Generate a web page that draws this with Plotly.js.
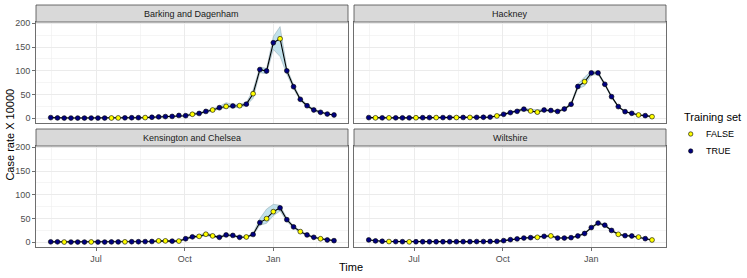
<!DOCTYPE html>
<html><head><meta charset="utf-8">
<script src="https://cdn.plot.ly/plotly-3.0.1.min.js"></script>
<style>html,body{margin:0;padding:0;background:#fff}#chart{width:747px;height:278px}</style>
</head><body><div id="chart"></div>
<script>
// ---------- data ----------
const dates = ["2020-05-15","2020-05-22","2020-05-29","2020-06-05","2020-06-12","2020-06-19","2020-06-26",
"2020-07-03","2020-07-10","2020-07-17","2020-07-24","2020-07-31","2020-08-07","2020-08-14","2020-08-21","2020-08-28",
"2020-09-04","2020-09-11","2020-09-18","2020-09-25","2020-10-02","2020-10-09","2020-10-16","2020-10-23","2020-10-30",
"2020-11-06","2020-11-13","2020-11-20","2020-11-27","2020-12-04","2020-12-11","2020-12-18","2020-12-25",
"2021-01-01","2021-01-08","2021-01-15","2021-01-22","2021-01-29","2021-02-05","2021-02-12","2021-02-19","2021-02-26","2021-03-05"];

const regions = ["Barking and Dagenham","Hackney","Kensington and Chelsea","Wiltshire"];

const barkingRate = [1.5,0.8,0.5,0.5,0.5,0.5,0.6,0.6,0.6,0.7,0.8,1.0,1.2,1.3,1.5,2.2,3.0,3.6,4.0,6.0,5.5,8.5,10.2,14.5,17.5,22.3,25.0,26.0,26.5,29.8,51.8,102.5,99.6,159,167.5,100,66.5,40,26.5,17.5,12.6,9,7];
const barkingLow  = [0.5,0,0,0,0,0,0,0,0,0,0,0.2,0.4,0.5,0.6,1.0,1.8,2.3,2.6,4.5,4.0,6.6,8.2,12.3,15.0,20.0,22.0,23.0,22.5,27.0,42,96,94,145,130,93,62,37,24,15.5,11,7.8,6];
const barkingHigh = [2.5,1.6,1.3,1.3,1.3,1.3,1.4,1.4,1.4,1.5,1.6,1.8,2.0,2.1,2.4,3.4,4.2,4.9,5.4,7.5,7.0,10.4,12.2,16.7,20.0,25.0,33.0,29.0,30.0,33.0,60,108,105,172,193,106,71,43,29,19.5,14,10.2,8];
const barkingHeldOut = [9,10,14,21,24,26,28,30,34];

const hackneyRate = [1.5,1.0,1.0,1.0,1.0,1.0,1.0,1.2,1.3,1.5,1.5,1.5,1.6,1.6,1.8,1.8,2.0,2.2,2.5,5.0,8.4,12,14.7,19.3,15.5,13,17.5,16.5,14.5,19.6,29.5,67,77,95.5,95.5,71.6,45.6,24.6,14,10.5,7,5.6,3.5];
const hackneyLow  = [0.7,0.2,0.2,0.2,0.2,0.2,0.2,0.4,0.5,0.7,0.7,0.7,0.8,0.8,1.0,1.0,1.2,1.4,1.6,4.0,7.2,10.6,13.0,16.5,14.0,12.5,15.5,14.5,13.0,18.0,27,62,68,91,92,69,43,23,12.8,9.4,6,4.6,2.6];
const hackneyHigh = [2.3,1.8,1.8,1.8,1.8,1.8,1.8,2.0,2.1,2.3,2.3,2.3,2.4,2.4,2.6,2.6,2.8,3.0,3.4,6.0,9.6,13.4,17.5,21.5,19.0,18.0,19.5,18.5,16.0,21.2,32,72,87,99,98,74,48,26,15.2,11.6,8,6.6,4.4];
const hackneyHeldOut = [1,3,7,10,13,15,19,24,25,32,40,42];

const kensingtonRate = [1.0,1.0,0.6,0.6,0.6,0.6,0.8,0.6,0.6,0.8,0.8,1.0,1.2,1.2,1.5,1.8,3.0,3.0,2.4,2.6,7.5,11.5,12.5,17,13.5,10.5,15.5,14.5,10.5,11.2,16.5,41.5,49.8,64.5,72.5,47.7,32.5,22.5,15.5,10.5,7.5,4.9,3.5];
const kensingtonLow  = [0.2,0.2,0,0,0,0,0,0,0,0,0,0.2,0.4,0.4,0.6,0.8,1.8,1.8,1.2,1.4,5.8,9.5,10.5,14,11.5,9.0,13.5,12.5,9.0,9.8,14.5,36,40,56,66,44,30,20.5,13.8,9.2,6.3,3.9,2.6];
const kensingtonHigh = [1.8,1.8,1.4,1.4,1.4,1.4,1.6,1.4,1.4,1.6,1.6,1.8,2.0,2.0,2.4,2.8,4.2,4.2,3.6,3.8,9.2,13.5,15.5,20,16.0,12.5,17.5,16.5,12.5,12.6,18.5,50,70,80,78,51,35,24.5,17.2,11.8,8.7,5.9,4.4];
const kensingtonHeldOut = [2,6,11,16,17,19,22,23,24,29,32,33,37,40];

const wiltshireRate = [5,3,2.2,1.6,1.5,1.3,1.0,1.2,1.2,1.2,1.2,1.2,1.3,1.3,1.4,1.4,1.6,1.6,1.8,2.0,3.5,5.6,7.2,9,9.8,10.5,12.6,13.5,9,9,9.8,13.3,18.5,31,40.5,36,25,16.8,14,13.3,11,7.7,4.9];
const wiltshireLow  = [4.2,2.3,1.5,0.9,0.8,0.6,0.3,0.5,0.5,0.5,0.5,0.5,0.6,0.6,0.7,0.7,0.9,0.9,1.1,1.2,2.7,4.7,6.2,8.0,8.7,9.4,11.4,12.2,8.0,8.0,8.7,12.0,17.0,29,38.5,34,23.5,15.6,12.9,12.2,10,6.8,4.1];
const wiltshireHigh = [5.8,3.7,2.9,2.3,2.2,2.0,1.7,1.9,1.9,1.9,1.9,1.9,2.0,2.0,2.1,2.1,2.3,2.3,2.5,2.8,4.3,6.5,8.2,10.0,10.9,11.6,13.8,14.8,10.0,10.0,10.9,14.6,20.0,33,42.5,38,26.5,18.0,15.1,14.4,12,8.6,5.7];
const wiltshireHeldOut = [3,6,25,27,37,40,42];

const xTickVals = ["2020-07-01","2020-10-01","2021-01-01"];
const xTickText = ["Jul","Oct","Jan"];
const xMinorVals = ["2020-05-16","2020-08-16","2020-11-16","2021-02-15"];
const yTickVals = [0,50,100,150,200];
const yMinorVals = [25,75,125,175];
const legendLabels = ["FALSE","TRUE"];

// ---------- layout geometry (pixels) ----------
const W = 747, H = 278;
const px = v => v / W, py = v => 1 - v / H;
const colsPx = [[36,348],[354,666]];
const rowsPx = [[22,123.3],[146,247.3]];
const stripH = 17;
const FONT = "Liberation Sans, Arial, sans-serif";
const NAVY = "#000080", YEL = "#FFFF00";
const BORDER = "#4a4a4a";

const series = [
  {rate: barkingRate, low: barkingLow, high: barkingHigh, held: barkingHeldOut},
  {rate: hackneyRate, low: hackneyLow, high: hackneyHigh, held: hackneyHeldOut},
  {rate: kensingtonRate, low: kensingtonLow, high: kensingtonHigh, held: kensingtonHeldOut},
  {rate: wiltshireRate, low: wiltshireLow, high: wiltshireHigh, held: wiltshireHeldOut}
];

const traces = [];
const layout = {
  width: W, height: H, margin: {l:0,r:0,t:0,b:0},
  paper_bgcolor: "#fff", plot_bgcolor: "#fff",
  showlegend: false, font: {family: FONT, size: 9, color: "#4D4D4D"},
  shapes: [], annotations: []
};

series.forEach((s, k) => {
  const col = k % 2, row = Math.floor(k / 2);
  const sfx = k === 0 ? "" : String(k + 1);
  const xa = "x" + sfx, ya = "y" + sfx;
  const isBottom = row === 1, isLeft = col === 0;
  layout["xaxis" + sfx] = {
    type: "date", domain: [px(colsPx[col][0]), px(colsPx[col][1])],
    range: ["2020-04-29 17:00", "2021-03-19 12:00"], anchor: ya,
    tickmode: "array", tickvals: xTickVals, ticktext: xTickText,
    showticklabels: isBottom, ticks: isBottom ? "outside" : "", ticklen: 3, tickcolor: BORDER, tickwidth: 0.8,
    tickfont: {family: FONT, size: 9, color: "#4D4D4D"},
    showgrid: true, gridcolor: "#EBEBEB", gridwidth: 1,
    minor: {tickmode: "array", tickvals: xMinorVals, showgrid: true, gridcolor: "#EFEFEF", gridwidth: 0.6, ticks: ""},
    showline: true, mirror: true, linecolor: BORDER, linewidth: 0.8, zeroline: false, fixedrange: true
  };
  layout["yaxis" + sfx] = {
    domain: [py(rowsPx[row][1]), py(rowsPx[row][0])],
    range: [-10.5, 202.7], anchor: xa,
    tickmode: "array", tickvals: yTickVals,
    showticklabels: isLeft, ticks: isLeft ? "outside" : "", ticklen: 3, tickcolor: BORDER, tickwidth: 0.8,
    tickfont: {family: FONT, size: 9, color: "#4D4D4D"},
    showgrid: true, gridcolor: "#EBEBEB", gridwidth: 1,
    minor: {tickmode: "array", tickvals: yMinorVals, showgrid: true, gridcolor: "#EFEFEF", gridwidth: 0.6, ticks: ""},
    showline: true, mirror: true, linecolor: BORDER, linewidth: 0.8, zeroline: false, fixedrange: true
  };
  // ribbon
  traces.push({x: dates, y: s.low, xaxis: xa, yaxis: ya, type: "scatter", mode: "lines",
    line: {color: "rgba(140,160,170,0.8)", width: 0.6}, hoverinfo: "skip"});
  traces.push({x: dates, y: s.high, xaxis: xa, yaxis: ya, type: "scatter", mode: "lines", fill: "tonexty",
    fillcolor: "rgba(173,216,230,0.75)", line: {color: "rgba(140,160,170,0.8)", width: 0.6}, hoverinfo: "skip"});
  // line
  traces.push({x: dates, y: s.rate, xaxis: xa, yaxis: ya, type: "scatter", mode: "lines",
    line: {color: "#000", width: 1.1}});
  // points
  const heldSet = new Set(s.held);
  const fx = [], fy = [], tx = [], ty = [];
  dates.forEach((d, i) => { if (heldSet.has(i)) { fx.push(d); fy.push(s.rate[i]); } else { tx.push(d); ty.push(s.rate[i]); } });
  traces.push({x: tx, y: ty, xaxis: xa, yaxis: ya, type: "scatter", mode: "markers",
    marker: {size: 4.8, color: NAVY, line: {color: "#000", width: 0.6}}});
  traces.push({x: fx, y: fy, xaxis: xa, yaxis: ya, type: "scatter", mode: "markers",
    marker: {size: 4.8, color: YEL, line: {color: "#000", width: 0.6}}});
  // strip
  const sy0 = rowsPx[row][0] - stripH, sy1 = rowsPx[row][0];
  layout.shapes.push({type: "rect", xref: "paper", yref: "paper",
    x0: px(colsPx[col][0]), x1: px(colsPx[col][1]), y0: py(sy1), y1: py(sy0),
    fillcolor: "#D9D9D9", line: {color: BORDER, width: 0.8}, layer: "above"});
  layout.annotations.push({xref: "paper", yref: "paper", x: px((colsPx[col][0] + colsPx[col][1]) / 2),
    y: py((sy0 + sy1) / 2), text: regions[k], showarrow: false, xanchor: "center", yanchor: "middle",
    font: {family: FONT, size: 9, color: "#1A1A1A"}});
});

// axis titles
layout.annotations.push({xref: "paper", yref: "paper", x: px(351), y: py(267), text: "Time", showarrow: false,
  xanchor: "center", yanchor: "middle", font: {family: FONT, size: 11, color: "#000"}});
layout.annotations.push({xref: "paper", yref: "paper", x: px(10), y: py(134.6), text: "Case rate X 10000", showarrow: false,
  textangle: -90, xanchor: "center", yanchor: "middle", font: {family: FONT, size: 11, color: "#000"}});

// legend (manual)
layout.annotations.push({xref: "paper", yref: "paper", x: px(682), y: py(117), text: "Training set", showarrow: false,
  xanchor: "left", yanchor: "middle", font: {family: FONT, size: 11, color: "#000"}});
[[YEL, 134], [NAVY, 151]].forEach((c, j) => {
  layout.shapes.push({type: "circle", xref: "paper", yref: "paper", xsizemode: "pixel", ysizemode: "pixel",
    xanchor: px(690.7), yanchor: py(c[1]), x0: -2.2, x1: 2.2, y0: -2.2, y1: 2.2,
    fillcolor: c[0], line: {color: "#000", width: 0.6}});
  layout.annotations.push({xref: "paper", yref: "paper", x: px(704), y: py(c[1]), text: legendLabels[j], showarrow: false,
    xanchor: "left", yanchor: "middle", font: {family: FONT, size: 9, color: "#000"}});
});

Plotly.newPlot("chart", traces, layout, {staticPlot: true, displayModeBar: false});
</script></body></html>
